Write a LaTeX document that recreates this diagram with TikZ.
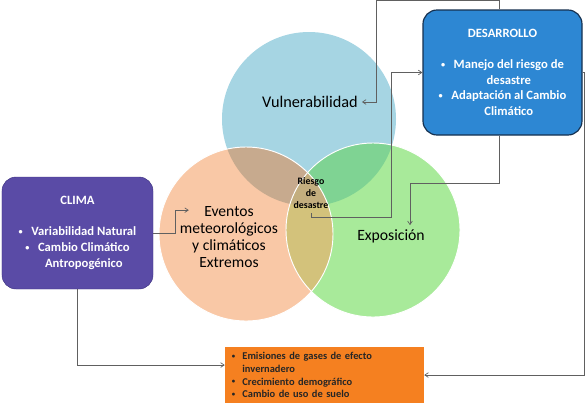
\documentclass[tikz,border=0pt]{standalone}
\usepackage{fontspec}
\setmainfont{Carlito}
\usetikzlibrary{arrows.meta,calc}

\definecolor{circazul}{HTML}{A6D5E3}
\definecolor{circnaranja}{HTML}{F9C8A6}
\definecolor{circverde}{HTML}{A8EA9A}
\definecolor{azulnaranja}{HTML}{C7AA8E}
\definecolor{azulverde}{HTML}{7FD393}
\definecolor{naranjaverde}{HTML}{D3C27B}
\definecolor{centro}{HTML}{C3AE7E}
\definecolor{morado}{HTML}{5A4BA6}
\definecolor{moradoborde}{HTML}{3E3382}
\definecolor{azulcaja}{HTML}{2D87D3}
\definecolor{azulborde}{HTML}{15304F}
\definecolor{naranja}{HTML}{F58020}

\newcommand{\vin}{\makebox[1em][l]{\raisebox{0.12em}{\scalebox{0.65}{\textbullet}}}}

\begin{document}
\begin{tikzpicture}[x=0.03cm,y=-0.03cm,
    conector/.style={draw=gray!75!black,line width=0.6pt,-{Straight Barb[length=3pt,width=4pt]}},
    caja/.style={rounded corners=12pt,align=center,text=white,font=\fontsize{10.8}{13.4}\selectfont\bfseries}]
  \useasboundingbox (0,0) rectangle (586,407);

  % circulos
  \coordinate (B) at (309,119);
  \coordinate (O) at (246,234);
  \coordinate (G) at (373,230);
  \fill[circazul] (B) circle (2.61cm);
  \fill[circnaranja] (O) circle (2.61cm);
  \fill[circverde] (G) circle (2.61cm);
  \begin{scope}
    \clip (B) circle (2.61cm);
    \fill[azulnaranja] (O) circle (2.61cm);
    \fill[azulverde] (G) circle (2.61cm);
  \end{scope}
  \begin{scope}
    \clip (O) circle (2.61cm);
    \fill[naranjaverde] (G) circle (2.61cm);
    \clip (B) circle (2.61cm);
    \fill[centro] (G) circle (2.61cm);
  \end{scope}
  \draw[white,line width=0.8pt] (O) circle (2.61cm);
  \draw[white,line width=0.8pt] (G) circle (2.61cm);

  \node[font=\fontsize{13.9}{16}\selectfont] (vuln) at (310,102) {Vulnerabilidad};
  \node[align=center,font=\fontsize{13.3}{14.6}\selectfont] (eventos) at (229,237)
    {Eventos\\meteorológicos\\y climáticos\\Extremos};
  \node[font=\fontsize{13.4}{16}\selectfont] (expo) at (391,236) {Exposición};
  \node[align=center,font=\fontsize{8.4}{10.6}\selectfont\bfseries] (riesgo) at (311,193)
    {Riesgo\\de\\desastre};

  % cajas
  \node[caja,fill=morado,draw=moradoborde,minimum width=4.53cm,minimum height=3.36cm]
    (clima) at (77.5,233) {CLIMA\\[13pt] \vin Variabilidad Natural\\ \vin Cambio Climático\\ \hspace{1em}Antropogénico};
  \node[caja,fill=azulcaja,draw=azulborde,line width=1pt,minimum width=4.77cm,minimum height=3.75cm]
    (desarrollo) at (502.5,72.5) {DESARROLLO\\[13pt] \vin Manejo del riesgo de\\ \hspace{1em}desastre\\ \vin Adaptación al Cambio\\ \hspace{1em}Climático};
  \node[fill=naranja,minimum width=5.97cm,minimum height=1.68cm,text width=5.55cm,inner xsep=0.21cm,
    align=left,font=\fontsize{8.9}{11}\selectfont\bfseries,text=black!85]
    (factores) at (324.5,375) {\vin Emisiones de gases de efecto\\ \hspace{1em}invernadero\\ \vin Crecimiento demográfico\\ \vin Cambio de uso de suelo};

  % conectores
  \draw[conector] (clima.east) -- ++(22,0) |- ($(eventos.north west)+(13,8)$);
  \draw[conector] (clima.south) |- ($(factores.west)+(0,-10)$);
  \draw[conector] ($(desarrollo.north)+(-3,0)$) -- ++(0,-9) -| ($(vuln.east)+(14,0)$) -- (vuln.east);
  \draw[conector] (riesgo.south) -- ++(0,4) -| ($(desarrollo.west)+(-31,0)$) -- (desarrollo.west);
  \draw[conector] ($(desarrollo.south)+(-3,0)$) -- ++(0,48) -| ($(expo.north)+(19,0)$);
  \draw[conector] (desarrollo.east) -- ++(2,0) |- (factores.east);
\end{tikzpicture}
\end{document}
